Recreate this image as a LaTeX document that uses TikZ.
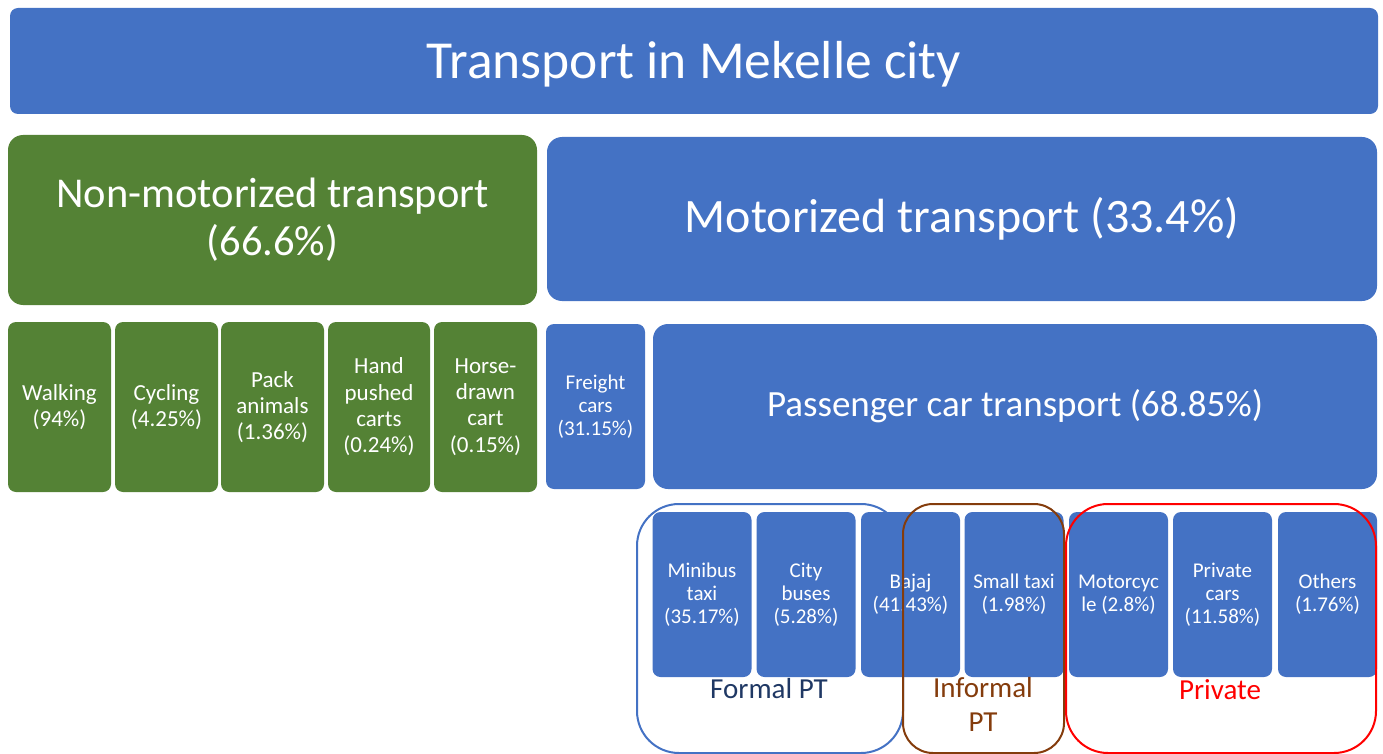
\documentclass[tikz,border=0pt]{standalone}
\usepackage{fontspec}
\setmainfont{Carlito}
\definecolor{boxblue}{HTML}{4472C4}
\definecolor{boxgreen}{HTML}{548235}
\definecolor{ptbrown}{HTML}{843C0C}
\definecolor{ptnavy}{HTML}{1F3864}
\definecolor{ptred}{HTML}{FF0000}
\newcommand{\fs}[2]{\fontsize{#1}{#2}\selectfont}
\begin{document}
\begin{tikzpicture}[x=1pt,y=-1pt,
  box/.style={draw=none, inner sep=0pt, align=center, text=white, rounded corners=8pt},
  bigbox/.style={box, rounded corners=15pt},
  greenbox/.style={box, fill=boxgreen, minimum width=103pt, minimum height=170pt, font=\fs{23}{26.3}},
  bluebox/.style={box, fill=boxblue, minimum width=99pt, minimum height=165pt, font=\fs{21}{23}},
  group/.style={draw, line width=2pt},
  grouplabel/.style={inner sep=0pt, align=center, font=\fs{29}{34}}]
\useasboundingbox (0,0) rectangle (1383,754);
\clip (0,0) rectangle (1383,754);

% top level
\node[box, fill=boxblue, minimum width=1368pt, minimum height=106pt] (title) at (694,61) {};
\node[inner sep=0pt, text=white, font=\fs{53.5}{60}] (titletext) at (694,64) {Transport in Mekelle city};

% second level
\node[bigbox, fill=boxgreen, minimum width=529pt, minimum height=170pt, font=\fs{42.5}{48}]
  (nonmot) at (272.5,220) {Non-motorized transport\\(66.6\%)};
\node[bigbox, fill=boxblue, minimum width=830pt, minimum height=164pt, font=\fs{48}{54}]
  (mot) at (962,219) {Motorized transport (33.4\%)};

% non-motorized modes
\node[greenbox] (walk)  at (59.5,407)  {Walking\\(94\%)};
\node[greenbox] (cycle) at (166.5,407) {Cycling\\(4.25\%)};
\node[greenbox] (pack)  at (272.5,407) {Pack\\animals\\(1.36\%)};
\node[greenbox, minimum width=102pt] (hand) at (379,407) {Hand\\pushed\\carts\\(0.24\%)};
\node[greenbox] (horse) at (485.5,407) {Horse-\\drawn\\cart\\(0.15\%)};

% motorized split
\node[bluebox] (freight) at (595.5,406.5) {Freight\\cars\\(31.15\%)};
\node[bigbox, fill=boxblue, minimum width=724pt, minimum height=165pt, font=\fs{37}{42}]
  (pass) at (1015,406.5) {Passenger car transport (68.85\%)};

% passenger modes
\node[bluebox] (minibus) at (702,594.5)    {Minibus\\taxi\\(35.17\%)};
\node[bluebox] (bus)     at (806,594.5)    {City\\buses\\(5.28\%)};
\node[bluebox] (bajaj)   at (910.5,594.5)  {Bajaj\\(41.43\%)};
\node[bluebox] (taxi)    at (1014,594.5)   {Small taxi\\(1.98\%)};
\node[bluebox] (moto)    at (1118.5,594.5) {Motorcyc\\le (2.8\%)};
\node[bluebox] (car)     at (1222.5,594.5) {Private\\cars\\(11.58\%)};
\node[bluebox] (others)  at (1327.5,594.5) {Others\\(1.76\%)};

% groupings of the passenger modes
\draw[group, boxblue, rounded corners=42pt] (637,504) rectangle (903,753);
\draw[group, ptbrown, rounded corners=30pt] (903,504) rectangle (1064,753);
\draw[group, ptred, rounded corners=42pt] (1066,504) rectangle (1376,753);

\node[grouplabel, text=ptnavy]  (formal)   at (769,689)  {Formal PT};
\node[grouplabel, text=ptbrown] (informal) at (983,704)  {Informal\\PT};
\node[grouplabel, text=ptred]   (private)  at (1220,690) {Private};
\end{tikzpicture}
\end{document}
